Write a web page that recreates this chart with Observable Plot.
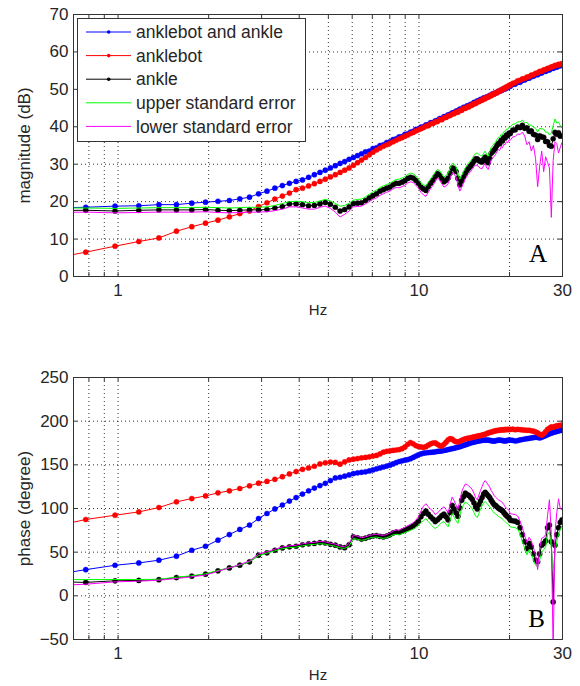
<!DOCTYPE html>
<html><head><meta charset="utf-8">
<script src="https://cdn.jsdelivr.net/npm/d3@7"></script>
<script src="https://cdn.jsdelivr.net/npm/@observablehq/plot@0.6"></script>
<style>
html,body{margin:0;padding:0;background:#fff;overflow:hidden;}
#chart{width:580px;height:686px;position:relative;}
#chart svg{display:block;}
</style></head><body><div id="chart"></div>
<script>
// frequency bins (Hz)
const freq = [0.586,0.781,0.977,1.172,1.367,1.563,1.758,1.953,2.148,2.344,
 2.539,2.734,2.930,3.125,3.320,3.516,3.711,3.906,4.102,4.297,
 4.492,4.688,4.883,5.078,5.273,5.469,5.664,5.859,6.055,6.250,
 6.445,6.641,6.836,7.031,7.227,7.422,7.617,7.813,8.008,8.203,
 8.398,8.594,8.789,8.984,9.180,9.375,9.570,9.766,9.961,10.156,
 10.352,10.547,10.742,10.938,11.133,11.328,11.523,11.719,11.914,12.109,
 12.305,12.500,12.695,12.891,13.086,13.281,13.477,13.672,13.867,14.063,
 14.258,14.453,14.648,14.844,15.039,15.234,15.430,15.625,15.820,16.016,
 16.211,16.406,16.602,16.797,16.992,17.188,17.383,17.578,17.773,17.969,
 18.164,18.359,18.555,18.750,18.945,19.141,19.336,19.531,19.727,19.922,
 20.117,20.508,20.898,21.289,21.680,22.070,22.461,22.852,23.242,23.633,
 24.023,24.414,24.805,25.195,25.586,25.977,26.367,26.758,27.148,27.539,
 27.930,28.320,28.711,29.102,29.492,29.883];

// magnitude (dB)
const magBoth = [18.3,18.5,18.8,18.9,19.2,19.2,19.6,19.85,20.1,20.3,
 20.75,21.2,22.1,22.8,23.6,24.3,24.9,25.4,25.8,26.5,
 27.2,27.8,28.4,29.0,29.6,30.2,30.7,31.3,31.8,32.3,
 32.8,33.3,33.5,34.2,34.4,35.0,35.2,35.8,36.0,36.6,
 36.8,37.3,37.4,38.0,38.1,38.6,38.8,39.3,39.4,39.9,
 40.0,40.5,40.6,41.1,41.1,41.6,41.7,42.2,42.2,42.7,
 42.8,43.2,43.3,43.7,43.8,44.2,44.3,44.7,44.7,45.2,
 45.2,45.6,45.6,46.0,46.0,46.5,46.5,46.9,46.9,47.3,
 47.3,47.7,47.6,48.0,48.0,48.4,48.4,48.8,48.8,49.1,
 49.1,49.5,49.5,49.8,49.8,50.2,50.1,50.5,50.4,50.8,
 50.8,51.3,51.4,51.9,51.9,52.4,52.5,52.9,53.0,53.4,
 53.5,53.9,53.9,54.3,54.4,54.8,54.8,55.2,55.2,55.6,
 55.6,56.0,55.9,56.3,56.3,56.6];
const magBot = [4.6,6.5,8.1,9.35,10.3,12.1,13.3,14.25,15.05,15.95,
 16.8,17.5,18.7,19.7,20.7,21.5,22.3,23.2,23.6,24.2,
 24.8,25.4,26.0,26.6,27.2,27.8,28.4,29.0,29.7,30.4,
 31.1,31.8,32.5,33.2,33.8,34.3,34.8,35.2,35.6,36.0,
 36.4,36.8,37.1,37.5,37.8,38.2,38.5,38.9,39.2,39.5,
 39.8,40.2,40.3,40.8,40.9,41.3,41.4,41.9,41.9,42.4,
 42.5,42.9,43.0,43.4,43.5,43.9,43.9,44.4,44.4,44.9,
 44.9,45.3,45.3,45.7,45.8,46.2,46.2,46.6,46.7,47.0,
 47.1,47.5,47.5,47.9,47.9,48.3,48.3,48.7,48.7,49.1,
 49.1,49.5,49.5,49.9,49.9,50.3,50.3,50.7,50.7,51.1,
 51.1,51.6,51.8,52.3,52.4,52.8,52.9,53.3,53.4,53.8,
 53.9,54.3,54.4,54.8,54.8,55.2,55.3,55.6,55.7,56.0,
 56.1,56.4,56.4,56.7,56.7,56.9];
const magAnkle = [17.6,17.7,17.5,17.7,17.8,17.8,17.8,17.9,17.7,17.6,
 17.7,17.8,17.8,17.9,18.3,18.7,19.4,19.4,19.2,18.9,
 19.0,19.4,19.8,19.3,18.5,17.5,17.9,18.6,19.5,19.6,
 19.7,20.3,21.0,21.6,22.1,22.8,23.2,23.6,23.9,24.5,
 24.9,24.9,25.2,25.6,26.2,26.5,26.3,25.7,24.9,23.9,
 23.4,23.0,24.0,24.9,25.7,26.7,27.5,27.1,26.2,25.3,
 25.7,26.3,27.6,29.0,28.8,28.1,26.2,24.5,25.5,26.6,
 27.6,28.4,29.0,29.5,30.1,30.8,31.4,31.4,31.0,30.7,
 30.6,31.3,31.9,30.8,30.4,31.6,32.9,33.4,33.8,34.3,
 35.0,35.6,35.5,36.4,36.2,37.1,37.0,37.8,37.6,38.3,
 38.2,39.1,39.2,39.9,39.8,40.4,39.6,39.7,38.8,38.9,
 38.0,37.8,36.6,37.6,37.3,37.2,36.1,36.0,35.0,34.8,
 36.8,38.5,38.0,38.4,37.5,37.6];
const magUpper = [18.3,18.3,18.2,18.3,18.4,18.4,18.4,18.5,18.4,18.3,
 18.4,18.5,18.5,18.6,19.0,19.5,20.0,20.1,20.0,19.7,
 19.8,20.2,20.6,20.2,19.5,18.8,19.0,19.6,20.4,20.6,
 20.7,21.3,22.0,22.6,23.1,23.8,24.2,24.6,24.9,25.5,
 25.9,26.0,26.3,26.7,27.3,27.6,27.4,26.9,26.0,25.0,
 24.5,24.2,25.2,26.1,26.9,27.9,28.6,28.3,27.4,26.6,
 27.0,27.6,28.9,30.2,30.0,29.3,27.5,26.0,27.0,28.0,
 29.0,29.8,30.4,30.9,31.5,32.3,32.9,33.0,32.6,32.3,
 32.2,32.9,33.5,32.5,32.2,33.3,34.5,35.0,35.4,35.9,
 36.6,37.2,37.2,38.0,37.9,38.7,38.7,39.4,39.3,39.9,
 39.9,40.7,40.8,41.3,41.3,41.8,41.1,41.2,40.4,40.5,
 39.9,39.6,38.6,39.6,39.4,39.4,38.5,38.6,37.8,38.3,
 40.3,42.1,41.0,41.2,40.3,40.0];
const magLower = [17.1,17.2,17.0,17.1,17.2,17.2,17.2,17.3,17.1,17.0,
 17.1,17.2,17.2,17.3,17.6,18.0,18.6,18.6,18.3,18.0,
 18.0,18.5,18.8,18.2,17.2,15.9,16.6,17.5,18.6,18.7,
 18.8,19.4,20.0,20.6,21.0,21.7,22.1,22.5,22.8,23.4,
 23.8,23.7,24.0,24.4,25.0,25.3,25.1,24.4,23.6,22.5,
 21.8,21.4,22.5,23.5,24.3,25.4,26.3,25.8,24.8,23.9,
 24.2,24.8,26.2,27.6,27.4,26.6,24.5,22.8,23.8,25.0,
 26.1,26.9,27.5,28.0,28.7,29.3,29.8,29.7,29.2,28.9,
 28.8,29.6,30.2,29.0,28.6,29.9,31.2,31.7,32.0,32.6,
 33.3,33.9,33.7,34.7,34.4,35.3,35.2,36.0,35.7,36.5,
 36.4,37.3,37.4,38.1,37.9,38.6,37.5,35.2,36.0,33.5,
 35.0,31.5,24.0,29.5,33.5,28.0,32.0,30.5,29.0,15.8,
 31.0,36.0,35.5,33.0,34.5,35.8];

// phase (degree)
const phBoth = [23.0,30.0,35.0,37.7,40.8,45.4,52.2,56.8,63.7,70.2,
 76.0,81.0,88.5,94.3,99.5,104.0,108.5,112.5,116.5,120.2,
 123.4,126.2,128.8,132.0,135.0,135.8,137.0,138.5,140.0,140.8,
 141.4,142.0,143.0,144.2,145.4,146.5,147.5,148.6,149.6,151.0,
 152.6,153.8,154.6,155.3,156.0,157.0,158.5,160.0,161.5,162.5,
 163.3,163.8,164.0,164.3,164.5,164.9,165.3,165.6,165.9,166.4,
 166.9,167.5,168.0,168.5,169.0,169.6,170.2,170.8,171.5,172.2,
 172.9,173.6,174.3,175.0,175.6,176.1,176.5,177.0,177.4,177.7,
 178.0,178.2,178.3,178.4,178.3,178.0,177.6,177.4,177.2,177.5,
 177.9,178.2,178.4,178.1,177.8,177.6,177.4,177.7,178.0,178.3,
 178.4,178.0,177.3,177.8,178.5,179.0,179.6,180.0,180.3,180.8,
 181.2,181.5,181.3,180.8,181.5,182.5,183.5,184.5,185.5,186.3,
 187.0,187.6,188.2,188.8,189.3,189.7];
const phBot = [78.0,87.4,92.3,96.1,101.1,107.6,111.4,114.4,117.9,120.2,
 122.9,126.0,129.0,131.0,133.4,136.4,139.6,142.3,144.8,146.5,
 148.4,151.0,152.4,153.2,152.8,150.8,153.5,155.6,156.5,157.2,
 158.0,158.5,159.2,160.0,160.8,162.5,164.5,165.5,166.0,166.5,
 167.0,167.5,168.5,170.5,173.5,175.5,174.0,172.0,171.0,170.5,
 170.0,170.8,172.5,174.0,175.0,175.2,173.5,172.0,171.5,173.5,
 176.0,178.5,180.0,179.5,177.5,176.5,176.3,177.0,178.0,179.0,
 179.8,180.2,180.5,181.0,181.5,182.0,182.3,182.8,183.2,183.5,
 184.0,184.5,185.0,185.8,186.5,187.0,187.5,188.0,188.5,189.0,
 189.2,189.5,189.8,190.0,190.2,190.0,190.5,190.3,190.6,190.4,
 190.5,190.8,190.2,190.6,190.4,190.0,189.8,189.5,189.6,189.0,
 188.5,187.7,186.5,185.0,184.0,185.5,188.0,190.5,192.0,193.4,
 193.0,194.0,194.5,195.0,195.3,195.4];
const phAnkle = [16.3,15.4,17.2,17.6,18.5,20.9,22.5,24.8,28.6,32.0,
 35.1,38.9,46.5,49.2,52.2,54.9,56.1,56.8,58.5,59.5,
 60.0,61.0,60.5,59.0,58.0,56.0,55.2,58.5,67.5,66.5,
 65.0,66.0,67.5,68.5,69.0,68.0,67.5,68.5,70.0,72.0,
 73.0,72.5,74.0,75.5,77.0,78.5,80.0,82.5,85.5,90.5,
 94.3,97.0,93.5,90.5,88.0,85.0,87.0,89.4,92.0,93.5,
 90.5,87.0,95.5,103.5,99.5,95.0,91.0,100.5,109.5,113.5,
 117.5,116.0,115.0,112.8,110.5,106.5,102.0,99.5,104.5,108.5,
 112.5,116.5,118.5,116.5,114.5,112.5,109.5,107.0,104.5,103.5,
 102.0,100.5,99.5,98.5,97.5,95.5,93.5,92.0,90.5,89.5,
 86.5,86.0,85.5,84.0,78.0,70.0,62.0,54.0,60.0,56.0,
 48.0,41.0,39.0,48.0,58.0,60.0,63.0,78.0,81.0,62.0,
 -7.0,58.0,70.0,78.0,84.0,87.0];
const phUpper = [18.6,18.6,18.7,18.7,19.0,21.3,23.0,25.3,29.0,32.3,
 35.3,39.0,46.0,48.8,51.5,54.0,55.2,55.8,57.3,58.3,
 58.8,59.6,59.2,57.8,56.8,55.0,54.2,57.0,65.5,64.8,
 63.5,64.5,66.0,67.0,67.3,66.3,65.8,66.6,68.0,69.8,
 70.5,70.0,71.2,72.5,73.8,75.0,76.3,78.3,80.5,84.0,
 86.0,88.5,85.0,82.0,79.0,77.0,79.0,81.5,84.0,85.0,
 82.0,79.0,86.5,94.0,90.0,86.0,83.0,92.0,100.0,104.0,
 107.5,106.0,104.5,102.0,99.5,95.5,91.5,89.5,94.5,99.0,
 103.0,106.5,108.0,106.0,104.0,102.0,99.5,97.0,95.0,94.0,
 92.5,91.0,90.0,89.0,88.0,86.5,85.0,83.5,82.0,81.0,
 79.0,78.5,78.0,76.5,70.5,62.0,55.0,47.0,53.0,49.0,
 41.0,35.0,33.0,41.0,50.0,53.0,56.0,70.0,73.0,55.0,
 29.0,50.0,62.0,70.0,76.0,80.0];
const phLower = [11.5,13.3,16.0,16.8,17.9,19.8,21.8,23.8,28.2,32.0,
 35.8,40.0,48.0,50.5,53.4,56.0,57.2,58.0,59.7,60.7,
 61.2,62.4,61.8,60.2,59.2,57.0,56.2,60.0,69.5,68.2,
 66.5,67.5,69.0,70.0,70.7,69.7,69.2,70.4,72.0,74.2,
 75.5,75.0,76.8,78.5,80.2,82.0,83.7,86.7,90.5,97.0,
 102.5,105.5,102.0,99.0,97.0,93.0,95.0,97.3,100.0,102.0,
 99.0,95.0,104.5,113.0,109.0,104.0,99.0,109.0,119.0,124.0,
 128.0,127.5,125.5,124.0,121.5,117.5,112.5,110.0,115.5,120.5,
 125.0,129.5,132.0,129.5,127.0,124.5,120.5,118.0,115.0,113.0,
 111.5,110.0,109.0,108.0,107.0,104.5,102.0,100.5,99.0,98.0,
 94.0,93.5,93.0,91.5,85.5,78.0,69.0,61.0,67.0,63.0,
 55.0,47.0,30.0,55.0,66.0,67.0,70.0,92.0,110.0,70.0,
 -65.0,72.0,95.0,111.0,100.0,98.0];

const seriesNames = ["anklebot and ankle","anklebot","ankle","upper standard error","lower standard error"];
const seriesColors = ["#0000ff","#ff0000","#000000","#00ff00","#ff00ff"];
const seriesMarker = [true,true,true,false,false];
const xTicks = [1,10,30];
const xGrid = [0.8,0.9,1,2,3,4,5,6,7,8,9,10,20];
const magTicks = [0,10,20,30,40,50,60,70];
const phaseTicks = [-50,0,50,100,150,200,250];

const FONT = "'Liberation Sans', Arial, Helvetica, sans-serif";
const SERIF = "'Liberation Serif', 'Times New Roman', serif";
const X_DOMAIN = [0.711, 30];

function panel({values, yDomain, yTicks, yLabel, letter, marginTop, marginBottom, height, hzDy, letterDx, letterDy}) {
  const plotH = height - marginTop - marginBottom;
  const tY = 4 * (yDomain[1] - yDomain[0]) / plotH;
  const tX = Math.pow(10, 4 / 300);
  const grid = {stroke: "#000", strokeOpacity: 0.8, strokeDasharray: "1,3", strokeWidth: 1};
  const marks = [
    Plot.gridY(yTicks, grid),
    Plot.gridX(xGrid, grid),
    Plot.ruleX(xGrid, {x: d => d, y1: yDomain[0], y2: yDomain[0] + tY, stroke: "#333"}),
    Plot.ruleX(xGrid, {x: d => d, y1: yDomain[1] - tY, y2: yDomain[1], stroke: "#333"}),
    Plot.ruleY(yTicks, {y: d => d, x1: X_DOMAIN[0], x2: X_DOMAIN[0] * tX, stroke: "#333"}),
    Plot.ruleY(yTicks, {y: d => d, x1: X_DOMAIN[1] / tX, x2: X_DOMAIN[1], stroke: "#333"}),
    Plot.axisY(yTicks, {tickSize: 0, tickPadding: 5, label: null, fontSize: 17, fill: "#262626"}),
    Plot.axisX(xTicks, {tickSize: 0, tickPadding: 7, label: null, tickFormat: d => String(d), fontSize: 17, fill: "#262626"})
  ];
  values.forEach((vals, i) => {
    const data = vals.map((v, j) => ({f: freq[j], v}));
    marks.push(Plot.line(data, {x: "f", y: "v", stroke: seriesColors[i], strokeWidth: 1, clip: true}));
    if (seriesMarker[i]) marks.push(Plot.dot(data, {x: "f", y: "v", r: 2.6, fill: seriesColors[i], stroke: seriesColors[i], strokeWidth: 0.6, strokeOpacity: 0.6, clip: true}));
  });
  marks.push(Plot.frame({stroke: "#333"}));
  marks.push(Plot.text([yLabel], {frameAnchor: "left", dx: -49, rotate: -90, fontSize: 17, textAnchor: "middle", lineAnchor: "middle", fill: "#262626"}));
  marks.push(Plot.text(["Hz"], {frameAnchor: "bottom", dy: hzDy, fontSize: 15, textAnchor: "middle", lineAnchor: "middle", fill: "#262626"}));
  marks.push(Plot.text([letter], {frameAnchor: "bottom-right", dx: letterDx, dy: letterDy, fontSize: 25, fontFamily: SERIF, textAnchor: "middle", lineAnchor: "middle", fill: "#000"}));
  return Plot.plot({
    width: 580, height, marginTop, marginBottom, marginLeft: 73, marginRight: 18,
    style: {fontFamily: FONT, fontSize: "17px", background: "#fff", color: "#262626"},
    x: {type: "log", domain: X_DOMAIN, axis: null},
    y: {domain: yDomain, axis: null},
    marks
  });
}

const chart = document.getElementById("chart");
chart.appendChild(panel({
  values: [magBoth, magBot, magAnkle, magUpper, magLower],
  yDomain: [0, 70], yTicks: magTicks, yLabel: "magnitude (dB)", letter: "A",
  height: 343, marginTop: 14, marginBottom: 67, hzDy: 34, letterDx: -24.5, letterDy: -22.5
}));
chart.appendChild(panel({
  values: [phBoth, phBot, phAnkle, phUpper, phLower],
  yDomain: [-50, 250], yTicks: phaseTicks, yLabel: "phase (degree)", letter: "B",
  height: 343, marginTop: 34, marginBottom: 47, hzDy: 36, letterDx: -26, letterDy: -20.5
}));

// legend (inside top panel, upper left)
const leg = d3.select(chart).append("svg")
  .attr("width", 230).attr("height", 125)
  .style("position", "absolute").style("left", "77px").style("top", "18px");
leg.append("rect").attr("x", 0.5).attr("y", 0.5).attr("width", 228).attr("height", 123)
  .attr("fill", "#fff").attr("stroke", "#333");
seriesNames.forEach((name, i) => {
  const y = 14 + i * 23.6;
  leg.append("line").attr("x1", 9).attr("x2", 54).attr("y1", y).attr("y2", y)
    .attr("stroke", seriesColors[i]).attr("stroke-width", 1);
  if (seriesMarker[i]) leg.append("circle").attr("cx", 31.7).attr("cy", y).attr("r", 1.8).attr("fill", seriesColors[i]);
  leg.append("text").attr("x", 59).attr("y", y).attr("dy", "0.35em")
    .attr("font-family", FONT).attr("font-size", 17.5).attr("fill", "#262626").text(name);
});
</script>
</body></html>
